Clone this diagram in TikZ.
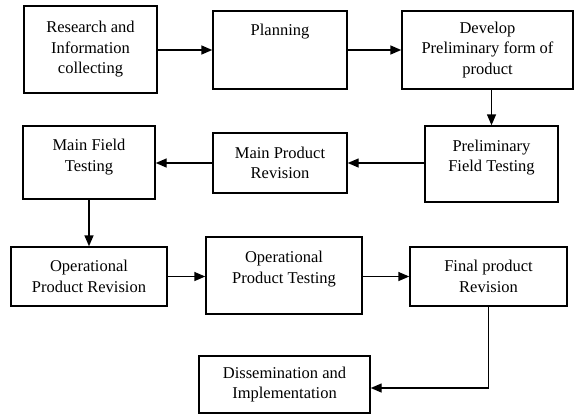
\documentclass[tikz,border=0pt]{standalone}
\usepackage{fontspec}
\setmainfont{Liberation Serif}
\usetikzlibrary{arrows.meta}
\tikzset{
  box/.style={draw, line width=1.4pt, rectangle, align=center, inner sep=0pt,
    font=\fontsize{16.5}{20.5}\selectfont},
  arr/.style={line width=1.4pt, -{Triangle[length=11pt,width=9pt]}}
}
\newcommand{\shiftup}[1]{\\[#1]\mbox{}}
\begin{document}
\begin{tikzpicture}[x=1pt,y=-1pt]
\useasboundingbox (0,0) rectangle (575,415);
\node[box, minimum width=133pt, minimum height=87pt] (R) at (90.5,49.5) {Research and\\Information\\collecting};
\node[box, minimum width=134pt, minimum height=78pt] (P) at (280,50) {Planning\\ \\ };
\node[box, minimum width=171pt, minimum height=78pt] (D) at (487.5,50) {Develop\\Preliminary form of\\product};
\node[box, minimum width=133pt, minimum height=76pt] (PFT) at (491.5,164) {Preliminary\\Field Testing\shiftup{-4pt}};
\node[box, minimum width=134pt, minimum height=60pt] (MPR) at (280,163) {Main Product\\Revision};
\node[box, minimum width=132pt, minimum height=73pt] (MFT) at (89,162.5) {Main Field\\Testing\shiftup{-6pt}};
\node[box, minimum width=156pt, minimum height=59pt] (OPR) at (89,276.5) {Operational\\Product Revision};
\node[box, minimum width=156pt, minimum height=77pt] (OPT) at (284,275.5) {Operational\\Product Testing\shiftup{-4pt}};
\node[box, minimum width=157pt, minimum height=59pt] (FPR) at (488.5,276.5) {Final product\\Revision};
\node[box, minimum width=171pt, minimum height=57pt] (DI) at (284.5,384.5) {Dissemination and\\Implementation};
\draw[arr] (R.east |- P) -- (P.west);
\draw[arr] (P.east) -- (D.west);
\draw[arr] (D.south -| PFT) -- (PFT.north);
\draw[arr] (PFT.west |- MPR) -- (MPR.east);
\draw[arr] (MPR.west) -- (MFT.east |- MPR);
\draw[arr] (MFT.south) -- (OPR.north);
\draw[arr] (OPR.east) -- (OPT.west |- OPR);
\draw[arr] (OPT.east |- FPR) -- (FPR.west);
\draw[arr] (FPR.south) |- ([yshift=-3.5pt]DI.east);
\end{tikzpicture}
\end{document}
